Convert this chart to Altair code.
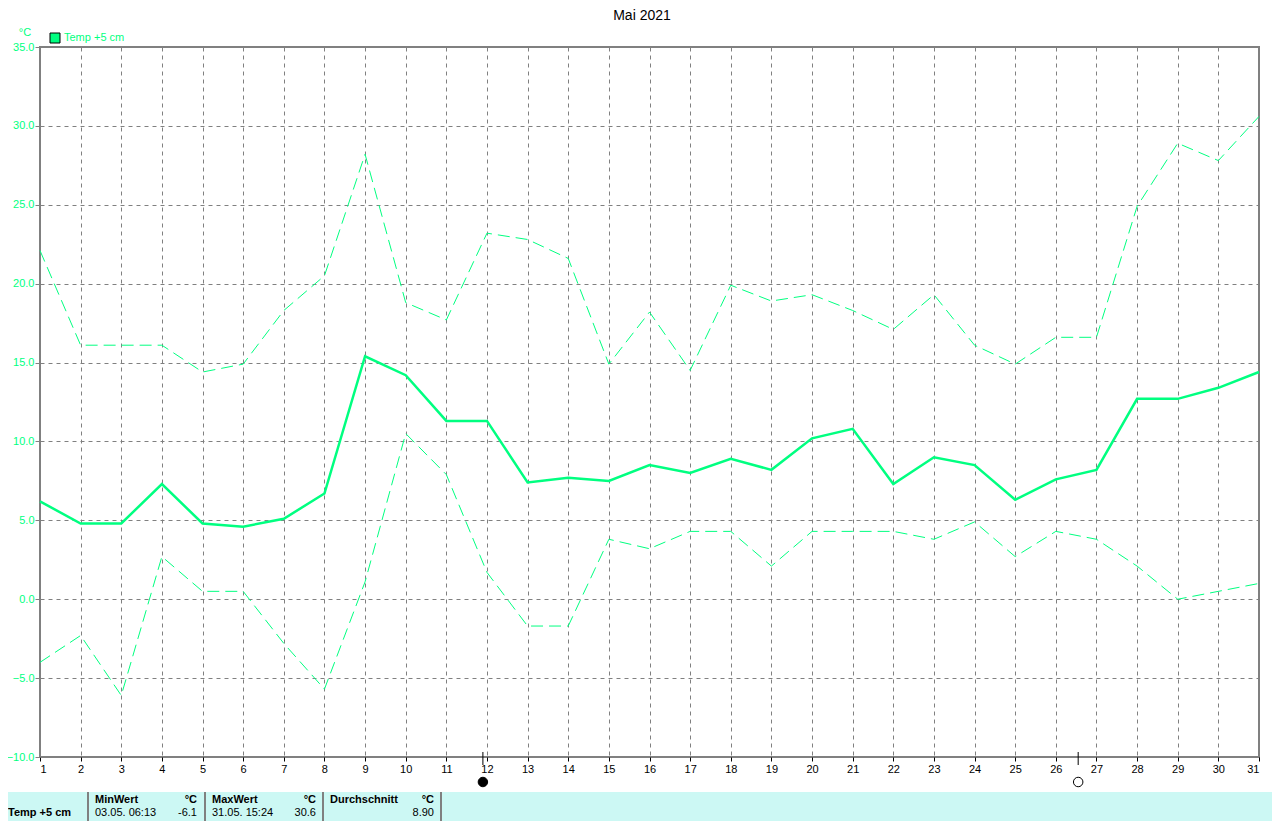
import altair as alt
import pandas as pd

# ---- data ----
days = list(range(1, 32))
t_max = [22.1, 16.1, 16.1, 16.1, 14.4, 14.9, 18.3, 20.5, 28.2, 18.8, 17.7, 23.2, 22.8, 21.6, 14.9, 18.2,
         14.5, 19.9, 18.9, 19.3, 18.3, 17.1, 19.3, 16.1, 14.9, 16.6, 16.6, 24.9, 28.9, 27.8, 30.6]
t_mean = [6.2, 4.8, 4.8, 7.3, 4.8, 4.6, 5.1, 6.7, 15.4, 14.2, 11.3, 11.3, 7.4, 7.7, 7.5, 8.5,
          8.0, 8.9, 8.2, 10.2, 10.8, 7.3, 9.0, 8.5, 6.3, 7.6, 8.2, 12.7, 12.7, 13.4, 14.4]
t_min = [-4.0, -2.3, -6.1, 2.7, 0.5, 0.5, -2.8, -5.7, 1.1, 10.5, 7.9, 1.7, -1.7, -1.7, 3.8, 3.2,
         4.3, 4.3, 2.1, 4.3, 4.3, 4.3, 3.8, 4.9, 2.7, 4.3, 3.8, 2.1, 0.0, 0.5, 1.0]
y_ticks = [-10, -5, 0, 5, 10, 15, 20, 25, 30, 35]
moon_days = [11.9, 26.55]
moon_fill = ["black", "white"]

title_text = "Mai 2021"
series_name = "Temp +5 cm"
unit = "°C"
table_head = ["MinWert", "MaxWert", "Durchschnitt"]
table_vals = ["03.05.  06:13", "-6.1", "31.05.  15:24", "30.6", "8.90"]

GREEN = "#00FF80"
GRAY = "#808080"
FONT = "Liberation Sans"

df = pd.DataFrame({"day": days, "tmax": t_max, "tmean": t_mean, "tmin": t_min})
moon = pd.DataFrame({"day": moon_days, "fill": moon_fill})
one = pd.DataFrame({"a": [0]})

xs = alt.Scale(domain=[1, 31], nice=False, zero=False)
ys = alt.Scale(domain=[-10, 35], nice=False, zero=False)

xaxis = alt.Axis(values=days, title=None, grid=True, gridColor=GRAY, gridDash=[4, 4], gridWidth=1,
                 domain=False, tickColor="black", tickSize=4, labelColor="black", labelFont=FONT,
                 labelFontSize=11, labelPadding=2, labelAngle=0)
yaxis = alt.Axis(values=y_ticks, format=".1f", title=None, grid=True, gridColor=GRAY, gridDash=[4, 4],
                 gridWidth=1, domain=False, tickColor=GRAY, tickSize=5, labelColor=GREEN, labelFont=FONT,
                 labelFontSize=11, labelPadding=1)

base = alt.Chart(df)
max_line = base.mark_line(color=GREEN, strokeWidth=1, strokeDash=[12, 6]).encode(
    x=alt.X("day:Q", scale=xs, axis=xaxis), y=alt.Y("tmax:Q", scale=ys, axis=yaxis))
min_line = base.mark_line(color=GREEN, strokeWidth=1, strokeDash=[12, 6]).encode(
    x=alt.X("day:Q", scale=xs), y=alt.Y("tmin:Q", scale=ys))
mean_line = base.mark_line(color=GREEN, strokeWidth=2.5).encode(
    x=alt.X("day:Q", scale=xs), y=alt.Y("tmean:Q", scale=ys))

moon_tick = alt.Chart(moon).mark_rule(color="black", strokeWidth=1).encode(
    x=alt.X("day:Q", scale=xs), y=alt.value(705), y2=alt.value(718))
moon_pt = alt.Chart(moon).mark_point(shape="circle", size=90, stroke="black", strokeWidth=1, opacity=1).encode(
    x=alt.X("day:Q", scale=xs), y=alt.value(735), fill=alt.Fill("fill:N", scale=None))


def txt(s, x, y, align="left", size=11, color="black", bold=False, baseline="middle"):
    return alt.Chart(one).mark_text(text=s, align=align, baseline=baseline, font=FONT, fontSize=size,
                                    color=color, fontWeight="bold" if bold else "normal").encode(
        x=alt.value(x), y=alt.value(y))


title = txt(title_text, 602, -31, align="center", size=14)
unit_lbl = txt(unit, -15, -14, align="center", color=GREEN)
leg_box = alt.Chart(one).mark_rect(fill=GREEN, stroke="black", strokeWidth=1).encode(
    x=alt.value(10), x2=alt.value(20), y=alt.value(-14), y2=alt.value(-4))
leg_txt = txt(series_name, 24, -9, color=GREEN)

# bottom table (page y 792 .. 821)
tbl = alt.Chart(one).mark_rect(fill="#CCF8F4").encode(
    x=alt.value(-40), x2=alt.value(1240), y=alt.value(745), y2=alt.value(774))
seps = [alt.Chart(one).mark_rule(color=GRAY, strokeWidth=2).encode(
    x=alt.value(xx), y=alt.value(745), y2=alt.value(774)) for xx in [48, 165, 283, 401]]
r1, r2 = 753, 766
cells = [
    txt(table_head[0], 55, r1, bold=True), txt(unit, 157, r1, align="right", bold=True),
    txt(table_head[1], 172, r1, bold=True), txt(unit, 276, r1, align="right", bold=True),
    txt(table_head[2], 290, r1, bold=True), txt(unit, 394, r1, align="right", bold=True),
    txt(series_name, -32, r2, bold=True),
    txt(table_vals[0], 55, r2), txt(table_vals[1], 157, r2, align="right"),
    txt(table_vals[2], 172, r2), txt(table_vals[3], 276, r2, align="right"),
    txt(table_vals[4], 394, r2, align="right"),
]

chart = alt.layer(max_line, min_line, mean_line, moon_tick, moon_pt, title, unit_lbl, leg_box, leg_txt,
                  tbl, *seps, *cells).properties(
    width=1219, height=710,
    autosize=alt.AutoSizeParams(type="none"),
    padding={"left": 32, "top": 39, "right": 13, "bottom": 64},
    background="white",
).configure_view(stroke=GRAY, strokeWidth=2)

chart.save("out.html", embed_options={"renderer": "svg", "actions": False})
